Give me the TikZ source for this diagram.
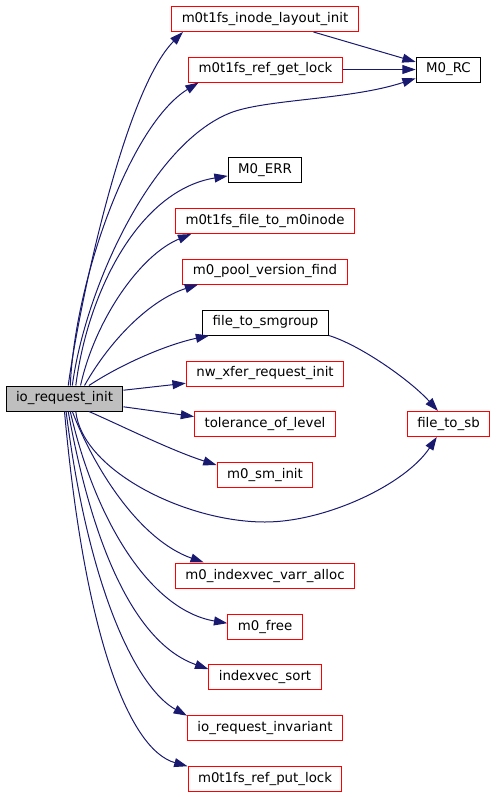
\documentclass[tikz,border=0pt]{standalone}
\usepackage{fontspec}
\setmainfont{DejaVu Sans}
\usetikzlibrary{arrows.meta}
\definecolor{midnight}{HTML}{191970}

\begin{document}
\begin{tikzpicture}[x = 0.75pt, y = -0.75pt,
  fn/.style = {draw = red, line width = 0.75pt, minimum height = 18.75pt,
               inner xsep = 7.5pt, inner ysep = 0pt,
               font = \fontsize{10}{12}\selectfont},
  leaf/.style = {fn, draw = black},
  root/.style = {fn, draw = black, fill = black!25},
  call/.style = {draw = midnight, line width = 0.75pt,
                 -{Triangle[length = 10pt, width = 6.7pt]}}]

\useasboundingbox (0, 0) rectangle (496, 797);

% the function and what it calls
\node[root] (io) at (64.5, 398.5) {io\_request\_init};
\node[fn]   (inode)     at (265, 19)    {m0t1fs\_inode\_layout\_init};
\node[fn]   (getlock)   at (265.5, 69.5) {m0t1fs\_ref\_get\_lock};
\node[leaf] (merr)      at (265, 170)   {M0\_ERR};
\node[fn]   (toinode)   at (265, 221)   {m0t1fs\_file\_to\_m0inode};
\node[fn]   (poolver)   at (265, 271.5) {m0\_pool\_version\_find};
\node[leaf] (smgroup)   at (265.5, 322.5) {file\_to\_smgroup};
\node[fn]   (nwxfer)    at (265, 373.5) {nw\_xfer\_request\_init};
\node[fn]   (tolerance) at (265, 424)   {tolerance\_of\_level};
\node[fn]   (sminit)    at (265, 474.5) {m0\_sm\_init};
\node[fn]   (varr)      at (265, 575.5) {m0\_indexvec\_varr\_alloc};
\node[fn]   (mfree)     at (265, 626.5) {m0\_free};
\node[fn]   (ivsort)    at (265, 677)   {indexvec\_sort};
\node[fn]   (invariant) at (265, 728)   {io\_request\_invariant};
\node[fn]   (putlock)   at (265, 778.5) {m0t1fs\_ref\_put\_lock};

% the third column
\node[leaf] (mrc)  at (448.5, 69.5) {M0\_RC};
\node[fn]   (tosb) at (448.5, 424)  {file\_to\_sb};

% calls going up
\draw[call] (io.74) .. controls (80, 300) and (125, 90) .. (inode.189);
\draw[call] (io.66) .. controls (75, 280) and (130, 125) .. (getlock.191);
\draw[call] (io.59) .. controls (85, 290) and (150, 145) .. (230, 113)
            .. controls (265, 99) and (350, 100) .. (mrc.195);
\draw[call] (io.49) .. controls (88, 290) and (140, 190) .. (merr.189);
\draw[call] (io.39) .. controls (95, 320) and (140, 255) .. (toinode.190);
\draw[call] (io.33) .. controls (110, 340) and (150, 300) .. (poolver.191);
\draw[call] (io.28) .. controls (120, 365) and (165, 345) .. (smgroup.193);
\draw[call] (io.8) -- (nwxfer.187);

% calls going down
\draw[call] (io.-8) -- (tolerance.174);
\draw[call] (io.-28) .. controls (120, 425) and (170, 450) .. (sminit.169);
\draw[call] (io.-49) .. controls (82, 470) and (185, 522) .. (265, 522)
            .. controls (325, 522) and (405, 485) .. (tosb.228);
\draw[call] (io.-59) .. controls (95, 470) and (140, 540) .. (varr.168);
\draw[call] (io.-66) .. controls (95, 520) and (150, 610) .. (mfree.175);
\draw[call] (io.-74) .. controls (95, 560) and (140, 645) .. (ivsort.172);
\draw[call] (io.-83) .. controls (90, 600) and (140, 690) .. (invariant.171);
\draw[call] (io.south) .. controls (85, 640) and (130, 750) .. (putlock.171);

% second level
\draw[call] (inode.-15) -- (mrc.167);
\draw[call] (getlock) -- (mrc);
\draw[call] (smgroup.south east) .. controls (360, 345) and (410, 380) .. (tosb.129);

\end{tikzpicture}
\end{document}
